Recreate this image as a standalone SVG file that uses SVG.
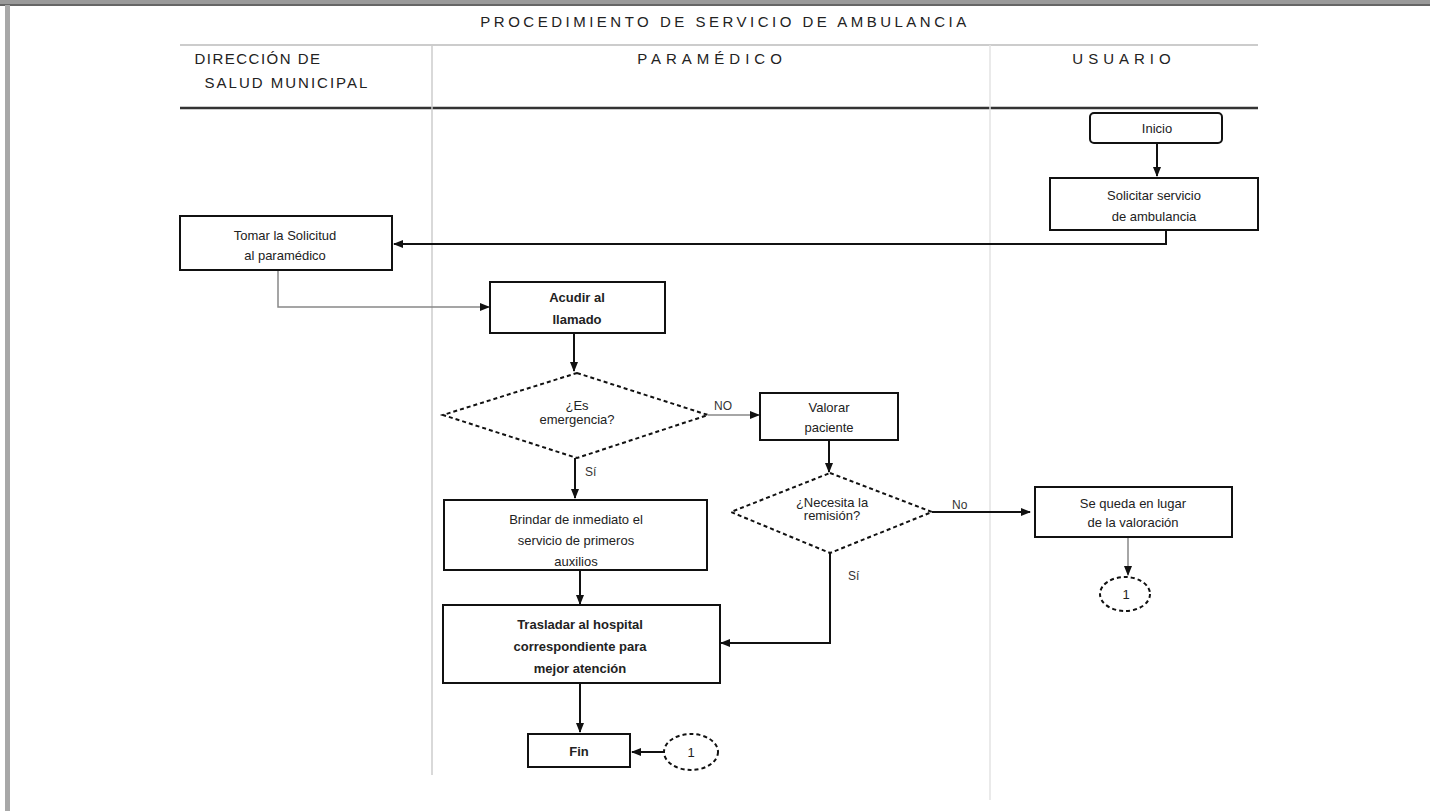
<svg xmlns="http://www.w3.org/2000/svg" width="1430" height="811" viewBox="0 0 1430 811">
<defs>
<marker id="ahb" viewBox="0 0 10 10" refX="9" refY="5" markerWidth="10" markerHeight="10" orient="auto" markerUnits="userSpaceOnUse">
<path d="M0,1 L10,5 L0,9 z" fill="#111"/>
</marker>
</defs>
<style>
.t{font-family:"Liberation Sans",Arial,sans-serif;font-size:13px;fill:#222;text-anchor:middle}
.h{font-family:"Liberation Sans",Arial,sans-serif;font-size:15px;fill:#222;letter-spacing:3px;text-anchor:middle}
.box{fill:#fff;stroke:#111;stroke-width:2}
.dec{fill:#fff;stroke:#111;stroke-width:2;stroke-dasharray:4 3}
.c{fill:none;stroke:#111;stroke-width:2}
.cg{fill:none;stroke:#888;stroke-width:1.5}
.lbl{font-family:"Liberation Sans",Arial,sans-serif;font-size:12px;fill:#333}
</style>
<rect x="0" y="0" width="1430" height="811" fill="#fff"/>
<rect x="0" y="0" width="1430" height="5" fill="#9a9a9a"/>
<rect x="0" y="4" width="1430" height="2" fill="#666"/>
<rect x="5" y="5" width="5" height="806" fill="#a8a8a8"/>
<g id="swimlanes">
<text class="h" x="725" y="27" style="letter-spacing:3.5px">PROCEDIMIENTO DE SERVICIO DE AMBULANCIA</text>
<line x1="180" y1="45" x2="1258" y2="45" stroke="#bbb" stroke-width="1.5"/>
<line x1="180" y1="108" x2="1258" y2="108" stroke="#333" stroke-width="2.5"/>
<line x1="432" y1="45" x2="432" y2="775" stroke="#ccc" stroke-width="1.5"/>
<line x1="990" y1="45" x2="990" y2="800" stroke="#e3e3e3" stroke-width="1.5"/>
<text class="h" x="258" y="64" style="letter-spacing:1.5px">DIRECCIÓN DE</text>
<text class="h" x="287" y="88" style="letter-spacing:2px">SALUD MUNICIPAL</text>
<text class="h" x="712" y="64" style="letter-spacing:5px">PARAMÉDICO</text>
<text class="h" x="1124" y="64" style="letter-spacing:5px">USUARIO</text>
</g>
<g id="connectors">
<line class="c" x1="1157" y1="143" x2="1157" y2="176" marker-end="url(#ahb)"/>
<polyline class="c" points="1166,230 1166,244 394,244" marker-end="url(#ahb)"/>
<polyline class="cg" points="278,270 278,307 489,307" marker-end="url(#ahb)"/>
<line class="c" x1="574" y1="333" x2="574" y2="371" marker-end="url(#ahb)"/>
<line class="cg" x1="708" y1="415" x2="759" y2="415" marker-end="url(#ahb)"/>
<line class="c" x1="829" y1="440" x2="829" y2="472" marker-end="url(#ahb)"/>
<line class="c" x1="932" y1="512" x2="1030" y2="512" stroke-width="1.5" marker-end="url(#ahb)"/>
<line class="cg" x1="1128" y1="537" x2="1128" y2="575" stroke-width="2.5" marker-end="url(#ahb)"/>
<line class="c" x1="575" y1="458" x2="575" y2="498" marker-end="url(#ahb)"/>
<line class="c" x1="580" y1="570" x2="580" y2="604" marker-end="url(#ahb)"/>
<polyline class="c" points="830,553 830,643 721,643" marker-end="url(#ahb)"/>
<line class="c" x1="580" y1="683" x2="580" y2="732" marker-end="url(#ahb)"/>
<line class="c" x1="663" y1="752" x2="632" y2="752" marker-end="url(#ahb)"/>
<text class="lbl" x="714" y="410">NO</text>
<text class="lbl" x="585" y="476">Sí</text>
<text class="lbl" x="952" y="509" font-size="13">No</text>
<text class="lbl" x="848" y="580">Sí</text>
</g>
<g id="inicio">
<rect class="box" x="1090" y="113" width="132" height="30" rx="4"/>
<text class="t" x="1157" y="133">Inicio</text>
</g>
<g id="solicitar">
<rect class="box" x="1050" y="178" width="208" height="52"/>
<text class="t" x="1154" y="200">Solicitar servicio</text>
<text class="t" x="1154" y="221">de ambulancia</text>
</g>
<g id="tomar">
<rect class="box" x="180" y="216" width="212" height="54"/>
<text class="t" x="285" y="240">Tomar la Solicitud</text>
<text class="t" x="285" y="260">al paramédico</text>
</g>
<g id="acudir">
<rect class="box" x="490" y="282" width="175" height="51"/>
<text class="t" x="577" y="302" font-weight="bold">Acudir al</text>
<text class="t" x="577" y="324" font-weight="bold">llamado</text>
</g>
<g id="es-emergencia">
<polygon class="dec" points="577,373 708,415 577,458 443,415"/>
<text class="t" x="577" y="410" font-size="10">¿Es</text>
<text class="t" x="577" y="424" font-size="10">emergencia?</text>
</g>
<g id="valorar">
<rect class="box" x="760" y="393" width="138" height="47"/>
<text class="t" x="829" y="412">Valorar</text>
<text class="t" x="829" y="432">paciente</text>
</g>
<g id="necesita">
<polygon class="dec" points="830,473 932,512 830,553 731,512"/>
<text class="t" x="832" y="507" font-size="9">¿Necesita la</text>
<text class="t" x="832" y="520" font-size="9">remisión?</text>
</g>
<g id="se-queda">
<rect class="box" x="1035" y="487" width="197" height="50"/>
<text class="t" x="1133" y="508" font-size="12">Se queda en lugar</text>
<text class="t" x="1133" y="527" font-size="12">de la valoración</text>
</g>
<g id="conector-1a">
<ellipse class="dec" cx="1125" cy="594" rx="25" ry="17"/>
<text class="t" x="1126" y="599" font-size="11">1</text>
</g>
<g id="brindar">
<rect class="box" x="444" y="500" width="263" height="70"/>
<text class="t" x="576" y="524">Brindar de inmediato el</text>
<text class="t" x="576" y="545">servicio de primeros</text>
<text class="t" x="576" y="566">auxilios</text>
</g>
<g id="trasladar">
<rect class="box" x="443" y="605" width="277" height="78"/>
<text class="t" x="580" y="629" font-weight="bold">Trasladar al hospital</text>
<text class="t" x="580" y="651" font-weight="bold">correspondiente para</text>
<text class="t" x="580" y="673" font-weight="bold">mejor atención</text>
</g>
<g id="fin">
<rect class="box" x="528" y="734" width="102" height="33"/>
<text class="t" x="579" y="756" font-weight="bold">Fin</text>
</g>
<g id="conector-1b">
<ellipse class="dec" cx="691" cy="752" rx="27" ry="18"/>
<text class="t" x="691" y="757" font-size="11">1</text>
</g>
</svg>
